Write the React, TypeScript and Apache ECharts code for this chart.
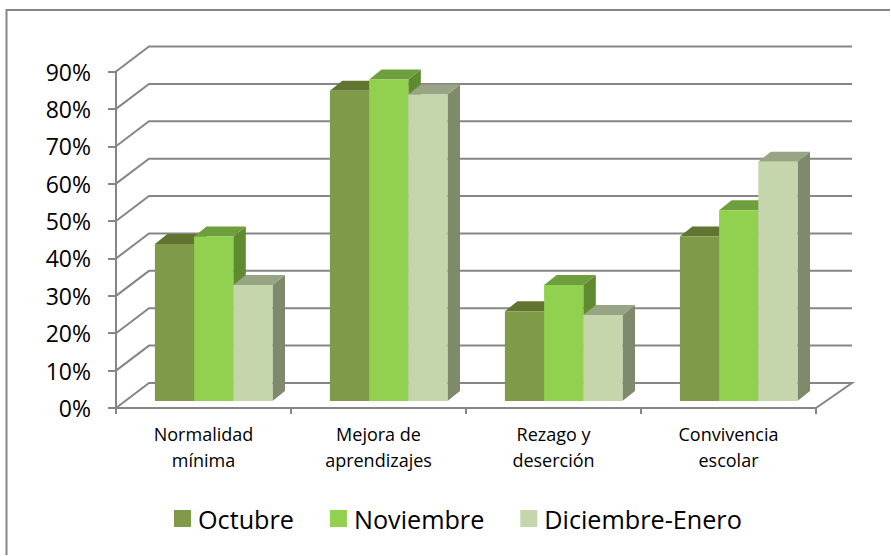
import React, { useEffect, useRef } from "react";
import * as echarts from "echarts";

const categories = ["Normalidad\nmínima", "Mejora de\naprendizajes", "Rezago y\ndeserción", "Convivencia\nescolar"];
const octubre = [42, 83, 24, 44];
const noviembre = [44, 86, 31, 51];
const diciembreEnero = [31, 82, 23, 64];
const yTicks = [0, 10, 20, 30, 40, 50, 60, 70, 80, 90];

const GRID = "#868686";
const FONT = "'Open Sans', sans-serif";
const WALL_DX = 33;
const WALL_DY = 25;
const BAR_DX = 12.5;
const BAR_DY = 10;
const BAR_FLOOR = 7;
const BAR_W = 39.2;
const GROUP_SHIFT = 10.2;

const barSeries = (name: string, values: number[], slot: number, front: string, top: string, side: string) => ({
  type: "custom",
  name,
  clip: false,
  z: 3 + slot,
  itemStyle: { color: front },
  encode: { x: 0, y: 1 },
  data: values.map((v, i) => [i, v]),
  renderItem: (_: any, api: any) => {
    const c = api.coord([api.value(0), api.value(1)]);
    const b = api.coord([api.value(0), 0]);
    const x0 = c[0] + GROUP_SHIFT + (slot - 1.5) * BAR_W;
    const x1 = x0 + BAR_W;
    const yt = c[1] - BAR_FLOOR;
    const yb = b[1] - BAR_FLOOR;
    return {
      type: "group",
      children: [
        { type: "polygon", shape: { points: [[x1, yt], [x1 + BAR_DX, yt - BAR_DY], [x1 + BAR_DX, yb - BAR_DY], [x1, yb]] }, style: { fill: side } },
        { type: "polygon", shape: { points: [[x0, yt], [x0 + BAR_DX, yt - BAR_DY], [x1 + BAR_DX, yt - BAR_DY], [x1, yt]] }, style: { fill: top } },
        { type: "rect", shape: { x: x0, y: yt, width: BAR_W, height: yb - yt }, style: { fill: front } },
      ],
    };
  },
});

export default function App() {
  const ref = useRef<HTMLDivElement>(null);
  useEffect(() => {
    const chart = echarts.init(ref.current!, undefined, { renderer: "svg" });
    chart.setOption({
      animation: false,
      backgroundColor: "#fff",
      grid: { left: 116, top: 71.5, width: 700, height: 336.5 },
      graphic: [
        { type: "polyline", shape: { points: [[890, 10], [6.5, 10], [6.5, 555]] }, style: { stroke: GRID, lineWidth: 2, fill: "none" } },
      ],
      legend: {
        left: 174,
        top: 506,
        data: ["Octubre", "Noviembre", "Diciembre-Enero"],
        icon: "rect",
        itemWidth: 17,
        itemHeight: 17,
        itemGap: 36,
        padding: 0,
        textStyle: { fontFamily: FONT, fontSize: 25.2, color: "#000", padding: [0, 0, 0, 2] },
      },
      xAxis: {
        type: "category",
        data: categories,
        axisLine: { lineStyle: { color: GRID, width: 2 } },
        axisTick: { show: true, length: 6, lineStyle: { color: GRID, width: 2 } },
        axisLabel: { interval: 0, fontFamily: FONT, fontSize: 18, color: "#000", lineHeight: 26, margin: 13 },
        splitLine: { show: false },
      },
      yAxis: {
        type: "value",
        min: 0,
        max: 90,
        interval: 10,
        axisLine: { show: true, lineStyle: { color: GRID, width: 2 } },
        axisTick: { show: true, length: 8, lineStyle: { color: GRID, width: 2 } },
        axisLabel: { formatter: "{value}%", fontFamily: FONT, fontSize: 23, color: "#000", margin: 25 },
        splitLine: { show: false },
      },
      series: [
        {
          type: "custom",
          name: "wall",
          silent: true,
          clip: false,
          z: 1,
          encode: { y: 0 },
          data: yTicks.map((t) => [t]),
          renderItem: (_: any, api: any) => {
            const t = api.value(0);
            const p = api.coord([0, t]);
            const left = p[0] - api.size([1, 0])[0] / 2;
            const right = left + api.size([1, 0])[0] * 4;
            const pts: number[][] = [[left, p[1]], [left + WALL_DX, p[1] - WALL_DY], [right + WALL_DX + 3, p[1] - WALL_DY]];
            if (t === 0) pts.push([right, p[1]]);
            return { type: "polyline", shape: { points: pts }, style: { stroke: GRID, lineWidth: 2, fill: "none" } };
          },
        },
        barSeries("Octubre", octubre, 0, "#7F9A48", "#617530", "#617530"),
        barSeries("Noviembre", noviembre, 1, "#92D050", "#6F9F3C", "#5E8A30"),
        barSeries("Diciembre-Enero", diciembreEnero, 2, "#C6D6AC", "#98A585", "#7F8A6C"),
      ],
    });
    return () => chart.dispose();
  }, []);
  return <div ref={ref} style={{ position: "fixed", left: 0, top: 0, width: 891, height: 556 }} />;
}
